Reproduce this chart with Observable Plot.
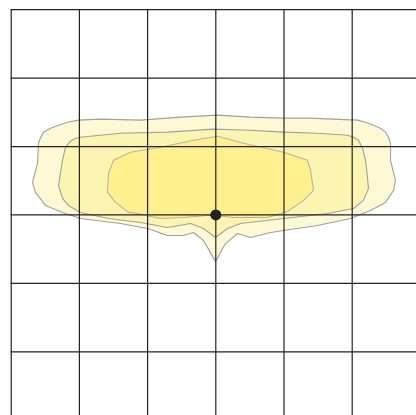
<!DOCTYPE html>
<html>
<head>
<meta charset="utf-8">
<script src="https://cdn.jsdelivr.net/npm/d3@7"></script>
<script src="https://cdn.jsdelivr.net/npm/@observablehq/plot@0.6"></script>
<style>
  html, body { margin: 0; padding: 0; background: #fff; }
  #chart svg { display: block; }
</style>
</head>
<body>
<div id="chart"></div>
<script>
// Grid positions (in grid-cell units, origin at the dot)
const gridX = [-3, -2, -1, 0, 1, 2];
const gridY = [-2, -1, 0, 1, 2, 3];

// Outer contour
const outerX = [-2.013,-2.174,-2.306,-2.423,-2.526,-2.570,-2.600,-2.614,-2.688,-2.644,-2.497,-2.248,-1.984,-1.397,-1.001,-0.708,-0.474,-0.327,-0.180,-0.004,0.142,0.318,0.509,0.802,0.993,1.491,1.975,2.268,2.488,2.606,2.635,2.591,2.562,2.562,2.532,2.488,2.415,2.312,2.195,2.078,1.726,1.389,0.993,0.509,0.025,-0.518,-1.104,-1.691];
const outerY = [1.386,1.356,1.312,1.268,1.210,1.129,1.048,0.755,0.477,0.330,0.139,0.037,-0.051,-0.125,-0.198,-0.301,-0.301,-0.257,-0.374,-0.682,-0.418,-0.271,-0.330,-0.257,-0.227,-0.154,-0.051,0.066,0.183,0.359,0.506,0.682,0.799,1.048,1.136,1.210,1.268,1.312,1.356,1.386,1.400,1.415,1.415,1.430,1.459,1.430,1.386,1.400];

// Middle contour
const middleX = [-1.984,-1.397,-0.708,-0.034,0.509,0.993,1.491,1.931,2.019,2.092,2.151,2.195,2.224,2.239,2.166,2.019,1.638,0.993,0.362,0.172,-0.004,-0.180,-0.371,-0.708,-1.104,-1.573,-1.984,-2.160,-2.248,-2.306,-2.248,-2.204,-2.130,-2.072];
const middleY = [1.136,1.195,1.210,1.254,1.239,1.210,1.195,1.166,1.136,1.092,0.975,0.799,0.550,0.389,0.213,0.095,0.022,-0.051,-0.125,-0.198,-0.330,-0.198,-0.125,-0.183,-0.110,-0.051,0.037,0.139,0.242,0.433,0.799,0.990,1.078,1.114];

// Inner contour
const innerX = [-1.500,-1.251,-0.811,-0.327,0.025,0.406,0.993,1.345,1.389,1.433,1.286,1.051,0.758,0.260,-0.004,-0.122,-0.474,-0.811,-1.148,-1.280,-1.471,-1.588,-1.573];
const innerY = [0.799,0.916,0.990,1.092,1.151,1.048,0.916,0.799,0.652,0.359,0.213,0.051,-0.037,-0.037,-0.007,-0.007,-0.037,-0.051,0.022,0.037,0.183,0.330,0.608];

// Center point
const centerX = [0];
const centerY = [0];

const toPts = (xs, ys) => xs.map((x, i) => ({x, y: ys[i]}));
const outer = toPts(outerX, outerY);
const middle = toPts(middleX, middleY);
const inner = toPts(innerX, innerY);
const center = toPts(centerX, centerY);

const contourStyle = {x: "x", y: "y", curve: "linear-closed", stroke: "#a0a0a0", strokeWidth: 1.1};

const chart = Plot.plot({
  width: 416,
  height: 415,
  marginTop: 0, marginRight: 0, marginBottom: 0, marginLeft: 0,
  x: {domain: [-3, 3], range: [10.7, 419.9], axis: null},
  y: {domain: [-3, 3], range: [419.7, 9.2], axis: null},
  style: {background: "#fff"},
  marks: [
    Plot.line(outer, {...contourStyle, fill: "#fef9d5"}),
    Plot.line(middle, {...contourStyle, fill: "#fcf5b2"}),
    Plot.line(inner, {...contourStyle, fill: "#fef08c", stroke: "#b4b4ac"}),
    Plot.ruleX(gridX, {x: d => d, y1: -3, y2: 3, stroke: "#222", strokeWidth: 1.2}),
    Plot.ruleY(gridY, {y: d => d, x1: -3, x2: 3, stroke: "#222", strokeWidth: 1.2}),
    Plot.dot(center, {x: "x", y: "y", r: 5.5, fill: "#222", stroke: "none"})
  ]
});
document.getElementById("chart").appendChild(chart);
</script>
</body>
</html>
